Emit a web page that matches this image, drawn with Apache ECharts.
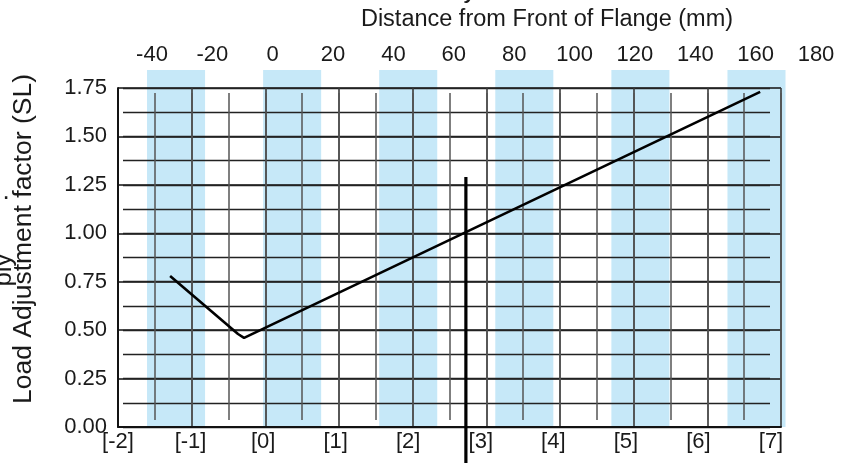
<!DOCTYPE html>
<html><head><meta charset="utf-8">
<script src="https://cdn.jsdelivr.net/npm/echarts@6/dist/echarts.min.js"></script>
<style>html,body{margin:0;padding:0;background:#fff}#c{width:853px;height:463px}</style>
</head><body><div id="c"></div>
<script>
// ---- data ----
const topAxisMin = -40, topAxisMax = 180, topAxisStep = 20;          // Distance from Front of Flange (mm)
const bottomAxisMin = -2, bottomAxisMax = 7;                           // [-2] ... [7]
const yMin = 0, yMax = 1.75, yStep = 0.25;                             // Load Adjustment factor (SL)
const curveMM = [-34, -11.5, -9.5, 161.5];
const curveSL = [0.78, 0.48, 0.46, 1.73];
const markerMM = [64, 64];
const markerSL = [1.29, -0.19];
const bandFrom = [-1.6, 0, 1.6, 3.2, 4.8, 6.4];
const bandTo   = [-0.8, 0.8, 2.4, 4.0, 5.6, 7.2];

const FONT = "'Liberation Sans', Arial, sans-serif";
const TXT = '#1a1a1a';
const chart = echarts.init(document.getElementById('c'));

const hiddenAxis = (gi, extra) => Object.assign({gridIndex: gi, type: 'value', show: false}, extra || {});
const noLine = {show: false};

chart.setOption({
  animation: false,
  backgroundColor: '#fff',
  textStyle: {fontFamily: FONT},
  grid: [
    {left: 118, right: 72, top: 88, bottom: 36},   // 0 main box + major lines
    {left: 118, right: 72, top: 93, bottom: 43},   // 1 minor vertical lines
    {left: 123, right: 83, top: 88, bottom: 36},   // 2 minor horizontal lines
    {left: 118, right: 82, top: 70, bottom: 36},   // 3 bottom labels + bands
    {left: 152, right: 37, top: 88, bottom: 36}    // 4 top mm axis + data
  ],
  xAxis: [
    {gridIndex: 0, type: 'value', min: 0, max: 18, interval: 2, position: 'bottom', z: 3,
     axisLine: {show: true, lineStyle: {color: '#111', width: 1.6}}, axisTick: noLine, axisLabel: noLine,
     splitLine: {show: true, lineStyle: {color: '#3a3a3a', width: 1.6}}},
    {gridIndex: 0, type: 'value', min: 0, max: 18, position: 'top', z: 3,
     axisLine: {show: true, lineStyle: {color: '#111', width: 1.6}}, axisTick: noLine, axisLabel: noLine, splitLine: noLine},
    {gridIndex: 1, type: 'value', min: 0, max: 18, interval: 1, z: 3,
     axisLine: noLine, axisTick: noLine, axisLabel: noLine,
     splitLine: {show: true, lineStyle: {color: '#555', width: 1.5}}},
    hiddenAxis(2, {min: 0, max: 1}),
    {gridIndex: 3, type: 'value', min: bottomAxisMin, max: bottomAxisMax, interval: 1, position: 'bottom',
     axisLine: noLine, axisTick: noLine, splitLine: noLine,
     axisLabel: {show: true, margin: 4, fontSize: 22, color: TXT, fontFamily: FONT, formatter: v => '[' + v + ']'}},
    {gridIndex: 4, type: 'value', min: topAxisMin, max: topAxisMax, interval: topAxisStep, position: 'top',
     axisLine: noLine, axisTick: noLine, splitLine: noLine,
     axisLabel: {show: true, margin: 22, fontSize: 22, color: TXT, fontFamily: FONT}}
  ],
  yAxis: [
    {gridIndex: 0, type: 'value', min: yMin, max: yMax, interval: yStep, position: 'left', z: 3,
     axisLine: {show: true, lineStyle: {color: '#111', width: 1.6}}, axisTick: noLine,
     axisLabel: {show: true, margin: 11, fontSize: 22, color: TXT, fontFamily: FONT, formatter: v => v.toFixed(2)},
     splitLine: {show: true, lineStyle: {color: '#111', width: 1.5}}},
    {gridIndex: 0, type: 'value', min: yMin, max: yMax, position: 'right', z: 3,
     axisLine: {show: true, lineStyle: {color: '#111', width: 1.6}}, axisTick: noLine, axisLabel: noLine, splitLine: noLine},
    hiddenAxis(1, {min: 0, max: 1}),
    {gridIndex: 2, type: 'value', min: yMin, max: yMax, interval: yStep / 2, z: 3,
     axisLine: noLine, axisTick: noLine, axisLabel: noLine,
     splitLine: {show: true, lineStyle: {color: '#222', width: 1.3}}},
    hiddenAxis(3, {min: 0, max: 1}),
    hiddenAxis(4, {min: yMin, max: yMax})
  ],
  graphic: [
    {type: 'text', x: 547, y: 20, z: 10,
     style: {text: 'Distance from Front of Flange (mm)', fontSize: 23.5, fontFamily: FONT, fill: TXT, textAlign: 'center', textVerticalAlign: 'middle'}},
    {type: 'text', x: 24, y: 239, rotation: Math.PI / 2, z: 10,
     style: {text: 'Load Adjustment factor (SL)', fontSize: 26.5, fontFamily: FONT, fill: TXT, textAlign: 'center', textVerticalAlign: 'middle'}},
    {type: 'text', x: 4, y: 270, rotation: Math.PI / 2, z: 10,
     style: {text: 'ply', fontSize: 26, fontFamily: FONT, fill: TXT, textAlign: 'center', textVerticalAlign: 'middle'}},
    {type: 'text', x: 6, y: 192, z: 10,
     style: {text: '.', fontSize: 26, fontFamily: FONT, fill: TXT, textAlign: 'center', textVerticalAlign: 'middle'}},
    {type: 'text', x: 470, y: -9, z: 10,
     style: {text: 'y', fontSize: 26, fontFamily: FONT, fill: TXT, textAlign: 'center', textVerticalAlign: 'middle'}}
  ],
  series: [
    {type: 'custom', xAxisIndex: 4, yAxisIndex: 4, z: 1, clip: false, silent: true,
     data: bandFrom.map((f, i) => [f, bandTo[i]]),
     renderItem: (params, api) => {
       const a = api.coord([api.value(0), 1]);
       const b = api.coord([api.value(1), 0]);
       return {type: 'rect', shape: {x: a[0], y: a[1], width: b[0] - a[0], height: b[1] - a[1]},
               style: {fill: '#c6e8f8'}};
     }},
    {type: 'line', xAxisIndex: 5, yAxisIndex: 5, z: 6, clip: false, symbol: 'none', silent: true,
     data: curveMM.map((x, i) => [x, curveSL[i]]),
     lineStyle: {color: '#000', width: 2.6}},
    {type: 'line', xAxisIndex: 5, yAxisIndex: 5, z: 6, clip: false, symbol: 'none', silent: true,
     data: markerMM.map((x, i) => [x, markerSL[i]]),
     lineStyle: {color: '#000', width: 3.2}}
  ]
});
</script></body></html>
